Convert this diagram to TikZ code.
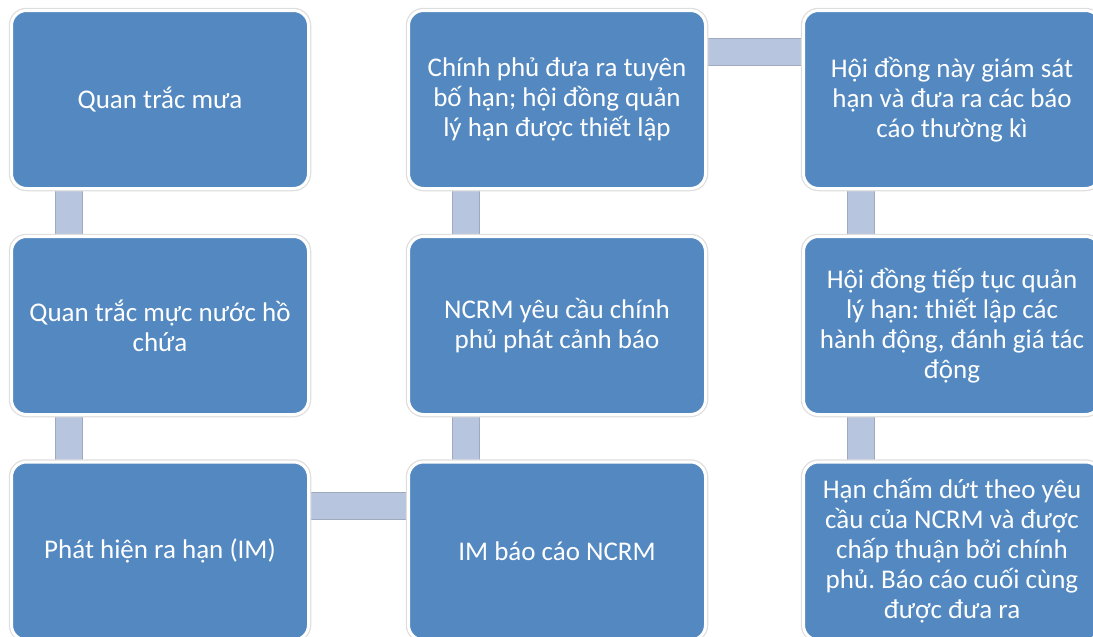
\documentclass[tikz,border=0pt]{standalone}
\usepackage{fontspec}
\setmainfont{Carlito}
\usepackage{xcolor}
\usetikzlibrary{backgrounds, calc}
\definecolor{stepblue}{RGB}{83,136,192}
\definecolor{linkfill}{RGB}{183,197,223}
\definecolor{linkedge}{RGB}{160,170,190}
\tikzset{
  stepbox/.style={rectangle, rounded corners=15pt, minimum width=297pt, minimum height=178pt, align=center, text=white, fill=stepblue, draw=white, line width=3pt, preaction={draw=black!13, line width=5.5pt}, font=\fontsize{27}{30}\selectfont, inner sep=0pt},
  link/.style={draw=linkfill, line width=26pt, preaction={draw=linkedge, line width=28pt}}
}
\frenchspacing
\begin{document}
\begin{tikzpicture}[x=1pt, y=-1pt]
\useasboundingbox (0,0) rectangle (1093,637);
% Column 1: observation and detection
\node[stepbox] (rain) at (160,99.5) {Quan trắc mưa};
\node[stepbox] (lake) at (160,325.5) {Quan trắc mực nước hồ\\chứa};
\node[stepbox] (detect) at (160,551) {Phát hiện ra hạn (IM)};

% Column 2: reporting and declaration
\node[stepbox] (report) at (557,551) {IM báo cáo NCRM};
\node[stepbox] (warn) at (557,325.5) {NCRM yêu cầu chính\\phủ phát cảnh báo};
\node[stepbox] (declare) at (557,99.5) {Chính phủ đưa ra tuyên\\bố hạn; hội đồng quản\\lý hạn được thiết lập};

% Column 3: drought council
\node[stepbox] (monitor) at (952,99.5) {Hội đồng này giám sát\\hạn và đưa ra các báo\\cáo thường kì};
\node[stepbox] (manage) at (952,325.5) {Hội đồng tiếp tục quản\\lý hạn: thiết lập các\\hành động, đánh giá tác\\động};
\node[stepbox] (finish) at (952,551) {Hạn chấm dứt theo yêu\\cầu của NCRM và được\\chấp thuận bởi chính\\phủ. Báo cáo cuối cùng\\được đưa ra};

% Links behind the boxes
\begin{scope}[on background layer]
\draw[link] ([xshift=59pt]rain.south west) -- ([xshift=59pt]lake.north west);
\draw[link] ([xshift=59pt]lake.south west) -- ([xshift=59pt]detect.north west);
\draw[link] ([yshift=-45pt]detect.north east) -- ([yshift=-45pt]report.north west);
\draw[link] ([xshift=59pt]report.north west) -- ([xshift=59pt]warn.south west);
\draw[link] ([xshift=59pt]warn.north west) -- ([xshift=59pt]declare.south west);
\draw[link] ([yshift=-43pt]declare.north east) -- ([yshift=-43pt]monitor.north west);
\draw[link] ([xshift=59pt]monitor.south west) -- ([xshift=59pt]manage.north west);
\draw[link] ([xshift=59pt]manage.south west) -- ([xshift=59pt]finish.north west);
\end{scope}
\end{tikzpicture}
\end{document}
